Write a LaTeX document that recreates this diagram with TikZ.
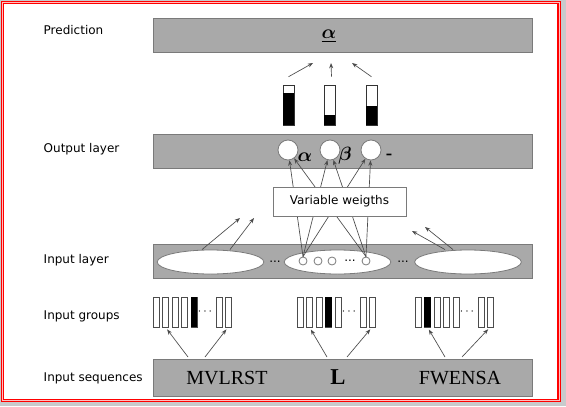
\documentclass[tikz,border=0pt]{standalone}
\usepackage{amsmath}
\usepackage{fontspec}
\setmainfont{Liberation Serif}
\setsansfont{DejaVu Sans}
\usepackage{xcolor}
\usetikzlibrary{arrows.meta,shapes.geometric}

\definecolor{layergray}{HTML}{A9A9A9}
\definecolor{edgegray}{HTML}{7A7A7A}
\definecolor{framegray}{HTML}{C9CACC}

\tikzset{
  layer/.style={draw=edgegray, fill=layergray, minimum width=284pt, minimum height=25.5pt, inner sep=0pt},
  tag/.style={anchor=base west, font=\sffamily\small},
  unit/.style={circle, draw=edgegray, fill=white, inner sep=0pt, minimum size=15pt, line width=0.6pt},
  subunit/.style={circle, draw=edgegray, fill=white, inner sep=0pt, minimum size=6pt, line width=0.6pt},
  group/.style={ellipse, draw=edgegray, fill=white, inner sep=0pt, minimum width=80pt, minimum height=18pt, line width=0.6pt},
  cell/.style={draw=black!70, fill=white, inner sep=0pt, minimum width=4.5pt, minimum height=22.5pt},
  gauge/.style={draw=black!80, fill=white, inner sep=0pt, minimum width=8.25pt, minimum height=30pt},
  arr/.style={draw=black!70, line width=0.5pt, -{Stealth[length=4pt,width=3pt]}},
}

\begin{document}
\begin{tikzpicture}[x=0.75pt, y=-0.75pt]
\useasboundingbox (0,0) rectangle (566,406);
% frame
\fill[framegray] (0,0) rectangle (566,406);
\draw[red, fill=red!25, line width=0.8pt] (1.5,1.5) rectangle (560.5,401.7);
\draw[red, fill=white, line width=0.8pt] (3.8,3.8) rectangle (558,399.3);

% level names
\node[tag] (lpred) at (39,35) {Prediction};
\node[tag] (lout) at (39,152) {Output layer};
\node[tag] (lin) at (39,263) {Input layer};
\node[tag] (lgrp) at (39,319) {Input groups};
\node[tag] (lseq) at (39,381) {Input sequences};

% prediction
\node[layer] (pred) at (342.5,35) {};
\node[font=\Large] (palpha) at (329,36) {$\underline{\boldsymbol{\alpha}}$};

\node[gauge] (t1) at (288.5,105) {};
\node[gauge] (t2) at (329.5,105) {};
\node[gauge] (t3) at (371.5,105) {};
\fill (t1.south west) rectangle ([yshift=24pt]t1.south east);
\fill (t2.south west) rectangle ([yshift=7.5pt]t2.south east);
\fill (t3.south west) rectangle ([yshift=14.25pt]t3.south east);

\coordinate (p1) at (313,63);
\coordinate (p2) at (331,63);
\coordinate (p3) at (352,63);
\draw[arr] ([yshift=6pt]t1.north) -- (p1);
\draw[arr] ([xshift=1.5pt,yshift=6pt]t2.north) -- (p2);
\draw[arr] ([yshift=6pt]t3.north) -- (p3);

% output layer
\node[layer] (outl) at (342.5,151) {};
\node[unit] (o1) at (288,150) {};
\node[unit] (o2) at (330,150) {};
\node[unit] (o3) at (371,150) {};
\node[font=\Large] (oa) at (305,157) {$\boldsymbol{\alpha}$};
\node[font=\Large] (ob) at (345,156) {$\boldsymbol{\beta}$};
\node[font=\Large\bfseries] (oc) at (389,157) {-};

% input layer
\node[layer] (inl) at (342.5,261) {};
\node[group] (e1) at (210.5,262) {};
\node[group] (e2) at (337.5,262) {};
\node[group] (e3) at (468,262) {};
\node[subunit] (u1) at (303,261) {};
\node[subunit] (u2) at (318,261) {};
\node[subunit] (u3) at (332,261) {};
\node[subunit] (u4) at (366,261) {};
\node[font=\sffamily\small] (d1) at (275,262) {...};
\node[font=\sffamily\small] (d2) at (350,261) {...};
\node[font=\sffamily\small] (d3) at (403,262) {...};

\coordinate (a1) at (240,218);
\coordinate (a2) at (254,218);
\coordinate (a3) at (412,231);
\coordinate (a4) at (425,227);
\draw[arr] ([xshift=-6.4pt]e1.north) -- (a1);
\draw[arr] ([xshift=14.6pt]e1.north) -- (a2);
\draw[arr] ([xshift=-17.2pt]e3.north) -- (a3);
\draw[arr] ([xshift=-11.2pt]e3.north) -- (a4);

% weights
\foreach \a in {u1,u4}
  \foreach \b in {o1,o2,o3}
    \draw[arr] (\a.north) -- (\b);
\node[draw=edgegray, fill=white, minimum width=100pt, minimum height=21.75pt, font=\sffamily\small] (w) at (339.5,201.5) {Variable weigths};

% input groups
\foreach \s/\k/\b in {153/1/4, 297/2/3, 415/3/1}{
  \foreach \i/\dx in {0/0, 1/9.5, 2/19, 3/28.5, 4/38, 5/63, 6/72}
    \node[cell] (g\k-\i) at (\s+\dx+3,312) {};
  \fill[black] (g\k-\b.south west) rectangle (g\k-\b.north east);
  \node[font=\small] (gd\k) at (\s+53,312) {$\cdots$};
}

% input sequences
\node[layer, minimum height=27.75pt] (seq) at (342.5,377.5) {};
\node[font=\fontsize{15}{18}\selectfont] (s1) at (227,378) {MVLRST};
\node[font=\fontsize{17}{20}\selectfont\bfseries] (s2) at (338,377) {L};
\node[font=\fontsize{15}{18}\selectfont] (s3) at (460,378) {FWENSA};

\coordinate (q1) at (188,357);
\coordinate (q2) at (205,357);
\coordinate (q3) at (327,357);
\coordinate (q4) at (347,357);
\coordinate (q5) at (445,357);
\coordinate (q6) at (462,357);
\draw[arr, shorten >=2pt] (q1) -- (g1-1.south);
\draw[arr, shorten >=2pt] (q2) -- (g1-6.south);
\draw[arr, shorten >=2pt] (q3) -- (g2-1.south);
\draw[arr, shorten >=2pt] (q4) -- (g2-6.south);
\draw[arr, shorten >=2pt] (q5) -- (g3-1.south);
\draw[arr, shorten >=2pt] (q6) -- (g3-6.south);
\end{tikzpicture}
\end{document}
